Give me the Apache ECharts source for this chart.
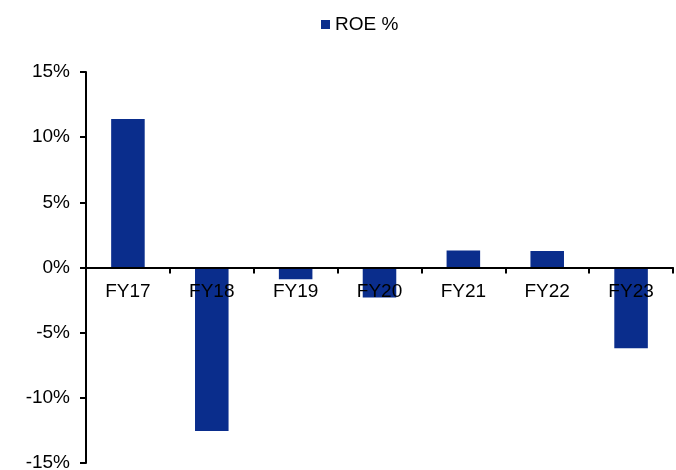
<!DOCTYPE html>
<html>
<head>
<meta charset="utf-8">
<script src="https://cdn.jsdelivr.net/npm/echarts@6/dist/echarts.min.js"></script>
<style>
html,body{margin:0;padding:0;background:#fff;}
#chart{width:676px;height:470px;}
</style>
</head>
<body>
<div id="chart"></div>
<script>
const categories = ['FY17','FY18','FY19','FY20','FY21','FY22','FY23'];
const roeValues = [11.4, -12.55, -0.9, -2.3, 1.3, 1.26, -6.2];
const seriesName = 'ROE %';
const yMin = -15, yMax = 15, yStep = 5;

const gridTop = 72, gridBottom = 7, H = 470;
const gridHeight = H - gridTop - gridBottom;
const zeroOffset = -gridHeight * (0 - yMin) / (yMax - yMin);

const chart = echarts.init(document.getElementById('chart'), null, {renderer:'canvas'});
const font = 'Liberation Sans, Arial, sans-serif';
chart.setOption({
  animation: false,
  backgroundColor: '#fff',
  legend: {
    data: [seriesName],
    top: 10,
    left: 316,
    icon: 'rect',
    itemWidth: 9,
    itemHeight: 9,
    itemGap: 3,
    textStyle: {fontFamily: font, fontSize: 19, color: '#000'}
  },
  grid: {left: 86, right: 3, top: gridTop, bottom: gridBottom, containLabel: false, outerBoundsMode: 'none'},
  xAxis: {
    type: 'category',
    data: categories,
    z: 10,
    position: 'bottom',
    offset: zeroOffset,
    axisLine: {onZero: false, lineStyle: {color: '#000', width: 2}},
    axisTick: {show: true, length: 6, lineStyle: {color: '#000', width: 2}},
    axisLabel: {fontFamily: font, fontSize: 19, color: '#000', margin: 15},
    splitLine: {show: false}
  },
  yAxis: {
    type: 'value',
    min: yMin,
    max: yMax,
    interval: yStep,
    axisLine: {show: true, lineStyle: {color: '#000', width: 2}},
    axisTick: {show: true, length: 6, lineStyle: {color: '#000', width: 2}},
    axisLabel: {fontFamily: font, fontSize: 19, color: '#000', margin: 16, formatter: '{value}%'},
    splitLine: {show: false}
  },
  series: [{
    name: seriesName,
    type: 'bar',
    data: roeValues,
    barWidth: '40%',
    itemStyle: {color: '#0a2d8c'}
  }]
});
</script>
</body>
</html>
